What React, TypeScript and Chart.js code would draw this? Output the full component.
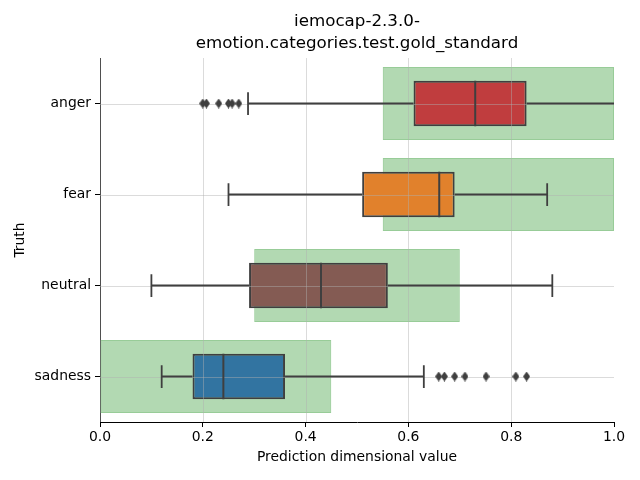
import React, { useEffect, useRef } from "react";
import { Chart, registerables } from "chart.js";

Chart.register(...registerables);

const titleLines = ["iemocap-2.3.0-", "emotion.categories.test.gold_standard"];
const xLabel = "Prediction dimensional value";
const yLabel = "Truth";
const categories = ["anger", "fear", "neutral", "sadness"];
const rangeLow = [0.55, 0.55, 0.3, 0.0];
const rangeHigh = [1.0, 1.0, 0.7, 0.45];
const whiskerLow = [0.288, 0.25, 0.1, 0.12];
const q1 = [0.61, 0.51, 0.29, 0.18];
const median = [0.73, 0.66, 0.43, 0.24];
const q3 = [0.83, 0.69, 0.56, 0.36];
const whiskerHigh = [1.02, 0.87, 0.88, 0.63];
const angerOutliers = [0.2, 0.207, 0.231, 0.25, 0.257, 0.27];
const sadnessOutliers = [0.659, 0.67, 0.69, 0.71, 0.751, 0.809, 0.83];
const boxColors = ["#c03d3e", "#e1812c", "#845b53", "#3274a1"];
const xTicks = [0, 0.2, 0.4, 0.6, 0.8, 1.0];

const LINE = "#3f3f3f";
const FONT = "DejaVu Sans";

function makeDiamond() {
  const c = document.createElement("canvas");
  c.width = 7;
  c.height = 10;
  const g = c.getContext("2d")!;
  g.fillStyle = LINE;
  g.beginPath();
  g.moveTo(3.5, 0);
  g.lineTo(7, 5);
  g.lineTo(3.5, 10);
  g.lineTo(0, 5);
  g.closePath();
  g.fill();
  return c;
}

const titlePlugin = {
  id: "centeredTitle",
  afterDraw(chart: any) {
    const { ctx, chartArea } = chart;
    const cx = (chartArea.left + chartArea.right) / 2;
    ctx.save();
    ctx.fillStyle = "#000";
    ctx.font = `16.7px "${FONT}"`;
    ctx.textAlign = "center";
    ctx.textBaseline = "middle";
    titleLines.forEach((t, i) => ctx.fillText(t, cx, 22 + i * 22));
    ctx.restore();
  },
};

const boxPlugin = {
  id: "boxDetails",
  afterDatasetDraw(chart: any, args: any) {
    if (args.index !== 1) return;
    const { ctx, chartArea, scales } = chart;
    const x = scales.x;
    const y = scales.y;
    ctx.save();
    ctx.beginPath();
    ctx.rect(chartArea.left, chartArea.top, chartArea.right - chartArea.left, chartArea.bottom - chartArea.top);
    ctx.clip();
    ctx.strokeStyle = "rgba(176,176,176,0.45)";
    ctx.lineWidth = 1;
    xTicks.forEach((v) => {
      const px = Math.round(x.getPixelForValue(v)) + 0.5;
      ctx.beginPath();
      ctx.moveTo(px, chartArea.top);
      ctx.lineTo(px, chartArea.bottom);
      ctx.stroke();
    });
    categories.forEach((_, i) => {
      const py = Math.round(y.getPixelForValue(i)) + 0.5;
      ctx.beginPath();
      ctx.moveTo(chartArea.left, py);
      ctx.lineTo(chartArea.right, py);
      ctx.stroke();
    });
    const meta = chart.getDatasetMeta(1);
    ctx.strokeStyle = LINE;
    ctx.lineCap = "butt";
    categories.forEach((_, i) => {
      const el: any = meta.data[i];
      const h = el.height;
      const cy = y.getPixelForValue(i);
      const pLo = x.getPixelForValue(whiskerLow[i]);
      const pQ1 = x.getPixelForValue(q1[i]);
      const pQ3 = x.getPixelForValue(q3[i]);
      const pHi = x.getPixelForValue(whiskerHigh[i]);
      const pMed = x.getPixelForValue(median[i]);
      ctx.lineWidth = 1.8;
      ctx.beginPath();
      ctx.moveTo(pLo, cy);
      ctx.lineTo(pQ1, cy);
      ctx.moveTo(pQ3, cy);
      ctx.lineTo(pHi, cy);
      ctx.stroke();
      ctx.beginPath();
      ctx.moveTo(pLo, cy - h / 4);
      ctx.lineTo(pLo, cy + h / 4);
      ctx.moveTo(pHi, cy - h / 4);
      ctx.lineTo(pHi, cy + h / 4);
      ctx.stroke();
      ctx.lineWidth = 2;
      ctx.beginPath();
      ctx.moveTo(pMed, cy - h / 2);
      ctx.lineTo(pMed, cy + h / 2);
      ctx.stroke();
    });
    ctx.restore();
  },
};

export default function App() {
  const ref = useRef<HTMLCanvasElement>(null);
  useEffect(() => {
    if (!ref.current) return;
    const diamond = makeDiamond();
    const outlierData = [
      ...angerOutliers.map((v) => ({ x: v, y: "anger" })),
      ...sadnessOutliers.map((v) => ({ x: v, y: "sadness" })),
    ];
    const chart = new Chart(ref.current, {
      type: "bar",
      data: {
        labels: categories,
        datasets: [
          {
            type: "bar",
            data: categories.map((_, i) => [rangeLow[i], rangeHigh[i]]),
            backgroundColor: "rgba(0,128,0,0.3)",
            borderColor: "rgb(152,204,152)",
            borderWidth: 1,
            borderSkipped: false,
            barPercentage: 0.8,
            categoryPercentage: 1,
            grouped: false,
            order: 3,
          } as any,
          {
            type: "bar",
            data: categories.map((_, i) => [q1[i], q3[i]]),
            backgroundColor: boxColors,
            borderColor: LINE,
            borderWidth: 2,
            borderSkipped: false,
            barPercentage: 0.5,
            categoryPercentage: 1,
            grouped: false,
            order: 2,
          } as any,
          {
            type: "scatter",
            data: outlierData,
            pointStyle: diamond,
            pointRadius: 4,
            order: 1,
          } as any,
        ],
      },
      options: {
        indexAxis: "y",
        responsive: false,
        animation: false,
        layout: { padding: { left: 0, right: 26, top: 58, bottom: 0 } },
        plugins: {
          legend: { display: false },
          tooltip: { enabled: false },
          title: { display: false },
        },
        scales: {
          x: {
            type: "linear",
            min: 0,
            max: 1,
            afterFit: (s: any) => {
              s.height = 58;
            },
            afterBuildTicks: (s: any) => {
              s.ticks = xTicks.map((v) => ({ value: v }));
            },
            ticks: {
              color: "#000",
              padding: 2,
              font: { family: FONT, size: 13.9 },
              callback: (v: any) => Number(v).toFixed(1),
            },
            grid: {
              drawOnChartArea: false,
              drawTicks: true,
              tickLength: 5,
              tickColor: "#000",
              tickWidth: 1,
            },
            border: { display: true, color: "#000", width: 1 },
            title: {
              display: true,
              text: xLabel,
              color: "#000",
              font: { family: FONT, size: 13.9, lineHeight: 1.2 },
              padding: { top: 2, bottom: 14.7 },
            },
          },
          y: {
            type: "category",
            afterFit: (s: any) => {
              s.width = 100;
            },
            ticks: {
              color: "#000",
              padding: 4,
              font: { family: FONT, size: 13.9 },
            },
            grid: {
              offset: false,
              drawOnChartArea: false,
              drawTicks: true,
              tickLength: 5,
              tickColor: "#000",
              tickWidth: 1,
            },
            border: { display: true, color: "#000", width: 1 },
            title: {
              display: true,
              text: yLabel,
              color: "#000",
              font: { family: FONT, size: 13.9, lineHeight: 1.2 },
              padding: { top: 11.7, bottom: 0 },
            },
          },
        },
      } as any,
      plugins: [boxPlugin, titlePlugin],
    });
    return () => chart.destroy();
  }, []);
  return (
    <div style={{ position: "absolute", left: 0, top: 0, width: 640, height: 480 }}>
      <canvas ref={ref} width={640} height={480} style={{ display: "block" }} />
    </div>
  );
}
